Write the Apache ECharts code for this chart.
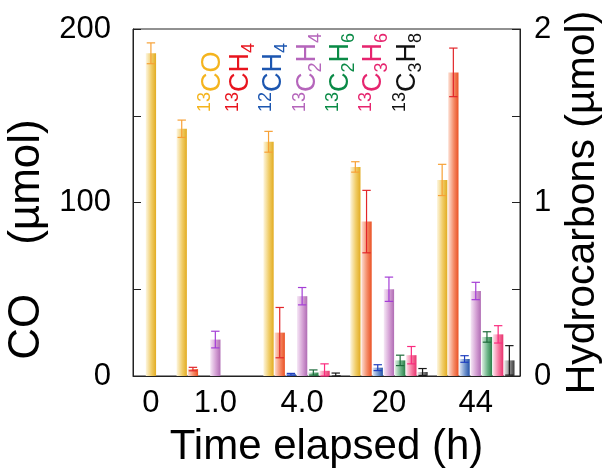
<!DOCTYPE html>
<html>
<head>
<meta charset="utf-8">
<script src="https://cdn.jsdelivr.net/npm/echarts@6/dist/echarts.min.js"></script>
<style>
html, body { margin: 0; padding: 0; background: #fff; }
#chart { width: 603px; height: 468px; }
</style>
</head>
<body>
<div id="chart"></div>
<script>
// time points (h)
var times = ['0', '1.0', '4.0', '20', '44'];

// CO on left axis (µmol)
var co     = [186, 142.5, 135, 120.5, 113];
var coErr  = [6, 5, 6, 3, 9];

// hydrocarbons on right axis (µmol)
var ch4_13    = [null, 0.04, 0.25, 0.89, 1.75];
var ch4_13Err = [null, 0.01, 0.145, 0.18, 0.14];
var ch4_12    = [null, null, 0.01, 0.048, 0.098];
var ch4_12Err = [null, null, 0.005, 0.017, 0.019];
var c2h4      = [null, 0.21, 0.46, 0.50, 0.49];
var c2h4Err   = [null, 0.048, 0.05, 0.07, 0.05];
var c2h6      = [null, null, 0.02, 0.09, 0.225];
var c2h6Err   = [null, null, 0.015, 0.03, 0.03];
var c3h6      = [null, null, 0.03, 0.12, 0.24];
var c3h6Err   = [null, null, 0.04, 0.05, 0.05];
var c3h8      = [null, null, 0.005, 0.023, 0.09];
var c3h8Err   = [null, null, 0.012, 0.02, 0.085];

var FONT = '"Liberation Sans", Arial, Helvetica, sans-serif';

// layout: group centres on the x axis (one unit = one bar slot)
var groupX = [1.6, 7.35, 15.1, 22.85, 30.6];
var groupSlots = [1, 7, 7, 7, 7];
var X_MAX = 34.55;
var BAR_W = 0.92;
var CAP_W = 0.75;

var seriesDefs = [
    { name: '13CO',   label: '{sup|13}{m|CO}',                  values: co,     errs: coErr,     axis: 0,
      grad: ['#fdf6e0', '#f0cc66', '#e2ac22'], err: '#f7a136', text: '#f4b41e' },
    { name: '13CH4',  label: '{sup|13}{m|CH}{sub|4}',           values: ch4_13, errs: ch4_13Err, axis: 1,
      grad: ['#fde0d4', '#f48a66', '#ea5124'], err: '#e2262a', text: '#e8141e' },
    { name: '12CH4',  label: '{sup|12}{m|CH}{sub|4}',           values: ch4_12, errs: ch4_12Err, axis: 1,
      grad: ['#dde6f4', '#6f92cc', '#2452a6'], err: '#1f3fbf', text: '#1c56b0' },
    { name: '13C2H4', label: '{sup|13}{m|C}{sub|2}{m|H}{sub|4}', values: c2h4,   errs: c2h4Err,   axis: 1,
      grad: ['#f6e8f6', '#d4a0d4', '#b06cb4'], err: '#a43ed6', text: '#b565bb' },
    { name: '13C2H6', label: '{sup|13}{m|C}{sub|2}{m|H}{sub|6}', values: c2h6,   errs: c2h6Err,   axis: 1,
      grad: ['#dff0e4', '#6cb488', '#2a8048'], err: '#1d6b3b', text: '#0a8a46' },
    { name: '13C3H6', label: '{sup|13}{m|C}{sub|3}{m|H}{sub|6}', values: c3h6,   errs: c3h6Err,   axis: 1,
      grad: ['#fde0ea', '#f5779f', '#e8336e'], err: '#fb2a7e', text: '#e6246e' },
    { name: '13C3H8', label: '{sup|13}{m|C}{sub|3}{m|H}{sub|8}', values: c3h8,   errs: c3h8Err,   axis: 1,
      grad: ['#e8e8e8', '#8a8a8a', '#3a3a3a'], err: '#1a1a1a', text: '#111111' }
];

// legend text positions (rotated labels near the top)
var legendX = [230, 258, 291, 325, 358, 391, 425];
var legendY = 112;

var chart = echarts.init(document.getElementById('chart'));

function makeSeries(def, slot) {
    var data = [];
    def.values.forEach(function (v, g) {
        if (v != null) data.push([groupX[g], v, def.errs[g], g]);
    });
    return {
        type: 'custom',
        name: def.name,
        yAxisIndex: def.axis,
        encode: { x: 0, y: 1 },
        data: data,
        renderItem: function (params, api) {
            var g = api.value(3);
            var xc = api.value(0) + slot - (groupSlots[g] - 1) / 2;
            var v = api.value(1), e = api.value(2);
            var p0 = api.coord([xc - BAR_W / 2, 0]);
            var p1 = api.coord([xc + BAR_W / 2, v]);
            var hi = api.coord([xc, v + e]);
            var lo = api.coord([xc, Math.max(v - e, 0)]);
            var capHalf = (api.coord([xc + CAP_W / 2, 0])[0] - api.coord([xc - CAP_W / 2, 0])[0]) / 2;
            var errStyle = { stroke: def.err, lineWidth: 1.2, fill: null };
            return {
                type: 'group',
                children: [
                    {
                        type: 'rect',
                        shape: { x: p0[0], y: p1[1], width: p1[0] - p0[0], height: p0[1] - p1[1] },
                        style: {
                            fill: {
                                type: 'linear', x: 0, y: 0, x2: 1, y2: 0,
                                colorStops: [
                                    { offset: 0, color: def.grad[0] },
                                    { offset: 0.55, color: def.grad[1] },
                                    { offset: 1, color: def.grad[2] }
                                ]
                            }
                        }
                    },
                    { type: 'line', shape: { x1: hi[0], y1: hi[1], x2: lo[0], y2: lo[1] }, style: errStyle },
                    { type: 'line', shape: { x1: hi[0] - capHalf, y1: hi[1], x2: hi[0] + capHalf, y2: hi[1] }, style: errStyle },
                    { type: 'line', shape: { x1: lo[0] - capHalf, y1: lo[1], x2: lo[0] + capHalf, y2: lo[1] }, style: errStyle }
                ]
            };
        }
    };
}

var legendTexts = seriesDefs.map(function (def, i) {
    return {
        type: 'text',
        x: legendX[i],
        y: legendY,
        rotation: Math.PI / 2,
        silent: true,
        style: {
            text: def.label,
            fill: def.text,
            align: 'left', textAlign: 'left',
            verticalAlign: 'bottom', textVerticalAlign: 'bottom',
            rich: {
                m:   { fontSize: 27, fontFamily: FONT, lineHeight: 34, fill: def.text },
                sup: { fontSize: 18, fontFamily: FONT, lineHeight: 18, verticalAlign: 'top', fill: def.text },
                sub: { fontSize: 18, fontFamily: FONT, lineHeight: 18, verticalAlign: 'bottom', fill: def.text }
            }
        }
    };
});

chart.setOption({
    animation: false,
    backgroundColor: '#fff',
    grid: {
        left: 133, right: 83, top: 29, bottom: 92,
        containLabel: false, outerBoundsMode: 'none',
        show: true, borderColor: '#222', borderWidth: 1
    },
    xAxis: {
        type: 'value',
        min: 0,
        max: X_MAX,
        name: 'Time elapsed (h)',
        nameLocation: 'middle',
        nameGap: 50,
        nameTextStyle: { fontSize: 42, color: '#000', fontFamily: FONT },
        axisLine: { show: true, lineStyle: { color: '#222', width: 1 } },
        axisTick: { show: false },
        splitLine: { show: false },
        axisLabel: {
            customValues: groupX,
            fontSize: 31,
            color: '#000',
            fontFamily: FONT,
            margin: 12,
            formatter: function (val) {
                var i = groupX.indexOf(val);
                return i >= 0 ? times[i] : '';
            }
        }
    },
    yAxis: [
        {
            type: 'value',
            min: 0, max: 200, interval: 100,
            position: 'left',
            name: 'CO    (µmol)',
            nameLocation: 'middle',
            nameRotate: 90,
            nameGap: 78,
            nameTextStyle: { fontSize: 44, color: '#000', fontFamily: FONT, padding: [0, 74, 0, 0] },
            axisLine: { show: true, lineStyle: { color: '#222', width: 1 } },
            axisTick: { show: true, inside: true, length: 8, lineStyle: { color: '#222' } },
            minorTick: { show: true, splitNumber: 2, length: 8, lineStyle: { color: '#222' } },
            splitLine: { show: false },
            axisLabel: { fontSize: 31, color: '#000', fontFamily: FONT, margin: 22 }
        },
        {
            type: 'value',
            min: 0, max: 2, interval: 1,
            position: 'right',
            name: 'Hydrocarbons (µmol)',
            nameLocation: 'middle',
            nameRotate: 90,
            nameGap: 42,
            nameTextStyle: { fontSize: 41, color: '#000', fontFamily: FONT },
            axisLine: { show: true, lineStyle: { color: '#222', width: 1 } },
            axisTick: { show: true, inside: true, length: 8, lineStyle: { color: '#222' } },
            minorTick: { show: true, splitNumber: 2, length: 8, lineStyle: { color: '#222' } },
            splitLine: { show: false },
            axisLabel: { fontSize: 31, color: '#000', fontFamily: FONT, margin: 14 }
        }
    ],
    graphic: legendTexts,
    series: seriesDefs.map(makeSeries)
});
</script>
</body>
</html>
